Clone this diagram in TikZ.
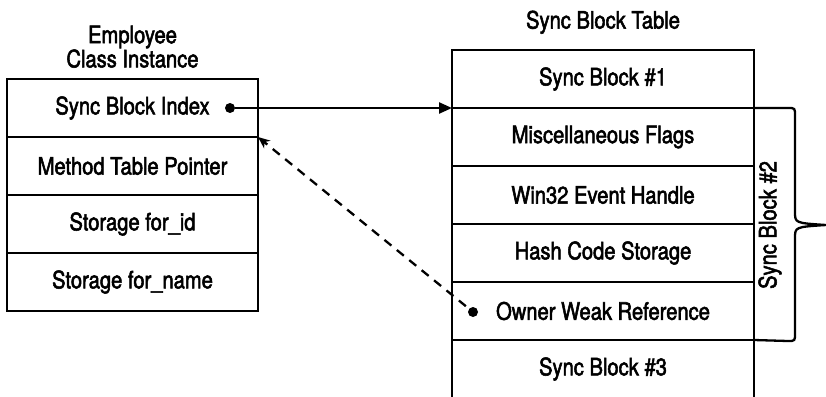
\documentclass[tikz,border=0pt]{standalone}
\usepackage{fontspec}
\setmainfont{TeX Gyre Heros}[FakeStretch=0.84, FakeBold=2.2]
\usetikzlibrary{positioning,arrows.meta,calc}
\begin{document}
\begin{tikzpicture}[x=1pt,y=1pt,
        font=\fontsize{24}{21}\selectfont,
        cell/.style={draw, line width=2.3pt, minimum height=58pt, inner sep=0pt, outer sep=0pt},
        leftcell/.style={cell, minimum width=251pt},
        rightcell/.style={cell, minimum width=302pt},
        ptr/.style={circle, fill, inner sep=0pt, minimum size=10pt},
        title/.style={inner sep=0pt, align=center}]
        \useasboundingbox (0,0) rectangle (826,-396);

        % Экземпляр класса
        \node[leftcell] (idx) at (132.5,-108) {Sync Block Index};
        \node[leftcell, below=0pt of idx] (mtp) {Method Table Pointer};
        \node[leftcell, below=0pt of mtp] (sid) {Storage for\_id};
        \node[leftcell, below=0pt of sid] (sname) {Storage for\_name};
        \node[title, above=11pt of idx] (emp) {Employee\\Class Instance};

        % Таблица блоков синхронизации
        \node[rightcell] (sb1) at (603,-79) {Sync Block \#1};
        \node[rightcell, below=0pt of sb1] (flags) {Miscellaneous Flags};
        \node[rightcell, below=0pt of flags] (event) {Win32 Event Handle};
        \node[rightcell, below=0pt of event] (hash) {Hash Code Storage};
        \node[rightcell, below=0pt of hash] (owner) {Owner Weak Reference};
        \node[rightcell, below=0pt of owner] (sb3) {Sync Block \#3};
        \node[title, above=16pt of sb1] (sbt) {Sync Block Table};

        % Фигурная скобка
        \draw[line width=2.3pt] (flags.north east) -- (788,-108)
            .. controls (795,-108) .. (795,-116) -- (795,-212)
            .. controls (795,-223) .. (826,-225)
            .. controls (795,-227) .. (795,-238) -- (795,-333)
            .. controls (795,-341) .. (788,-341) -- (owner.south east);
        \node[rotate=90] (sb2) at (770,-225) {Sync Block \#2};

        % Указатели
        \node[ptr] (idxdot) at ($(idx.east)+(-28,0)$) {};
        \node[ptr] (ownerdot) at ($(owner.west)+(21,-1)$) {};
        \draw[line width=2.4pt, -{Triangle[length=13pt,width=11pt]}] (idxdot) -- (sb1.south west);
        \draw[line width=2.3pt, dash pattern=on 9pt off 7pt, shorten <=4pt,
            -{Stealth[length=12pt,width=10pt]}] (ownerdot) -- (mtp.north east);
    \end{tikzpicture}
\end{document}
